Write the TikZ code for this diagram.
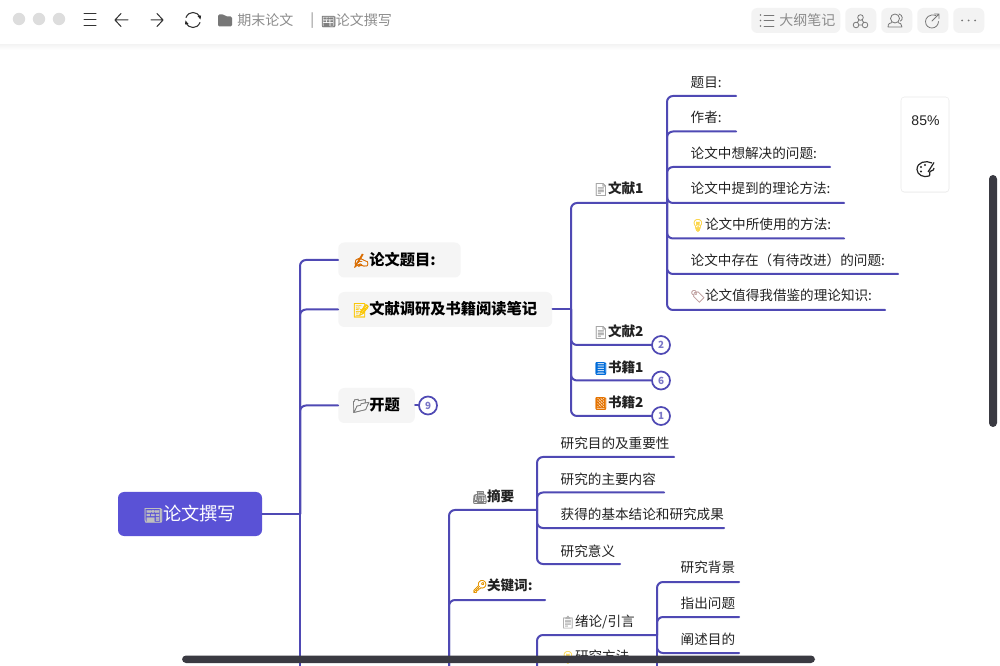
\documentclass[tikz,border=0pt]{standalone}
\usepackage{fontspec}
\setmainfont{Noto Sans CJK SC}
\newfontfamily\emo[Scale=0.9,FakeBold=1.6]{Noto Emoji}
\newfontfamily\latn{Liberation Sans}
\usetikzlibrary{shadows}
\definecolor{ink}{HTML}{4F49B4}
\definecolor{rootc}{HTML}{5A52D6}
\definecolor{pale}{HTML}{F5F5F5}
\definecolor{bar}{HTML}{3A3A42}
\definecolor{txt}{HTML}{222222}
\definecolor{grayt}{HTML}{8C8C8C}
\definecolor{dots}{HTML}{DDDDDD}
\definecolor{pill}{HTML}{F3F3F3}
\definecolor{icon}{HTML}{777777}
\newcommand{\emj}[2]{\makebox[1.05em][c]{\emo\textcolor{#1}{#2}}}
\tikzset{
  conn/.style={draw=ink,line width=1.5pt,rounded corners=4.5pt,line cap=round},
  leaf/.style={anchor=west,inner sep=0pt,xshift=-0.4pt,yshift=-0.6pt,text=txt,font=\fontsize{10.2}{12}\selectfont},
  subhead/.style={anchor=west,inner sep=0pt,xshift=-0.4pt,yshift=-0.6pt,text=txt,font=\fontsize{10.2}{12}\selectfont\bfseries},
  topic/.style={anchor=west,fill=pale,rounded corners=4.5pt,minimum height=26.25pt,inner ysep=0pt,inner xsep=11.25pt,text=black,font=\fontsize{11.45}{13}\selectfont\bfseries},
  rootbox/.style={fill=rootc,rounded corners=4.5pt,minimum width=108pt,minimum height=33pt,inner sep=0pt,text=white,font=\fontsize{13.7}{16}\selectfont},
  badge/.style={circle,draw=ink,line width=1.3pt,fill=white,minimum size=13.5pt,inner sep=0pt,text=ink!75,font=\fontsize{7.4}{8}\selectfont\bfseries},
  toptext/.style={anchor=west,inner sep=0pt,text=grayt,font=\fontsize{10.5}{12}\selectfont},
  pillbox/.style={fill=pill,rounded corners=4.5pt,minimum height=18.75pt,inner sep=0pt},
  tbicon/.style={draw=black!80,line width=0.75pt,line cap=round},
  rticon/.style={draw=icon,line width=0.6pt,line cap=round},
}
\begin{document}
\begin{tikzpicture}[x=0.75pt,y=-0.75pt]
\useasboundingbox (0,0) rectangle (1000,666);
\clip (0,0) rectangle (1000,666);
\fill[white] (0,0) rectangle (1000,666);

% ---- main spines (drawn first)
\node[rootbox] (root) at (190,514) {\emj{white!75!black}{📰}论文撰写};
\coordinate (hubA) at (300,514);
\coordinate (hubAend) at (300,680);
\draw[conn] (root.east) -- (hubA);
\draw[conn] (hubA) -- (hubAend);

% ---- level 1
\node[topic] (title) at (338,260) {\emj{orange!85!black}{✍}论文题目:\rule{7.5pt}{0pt}};
\node[topic] (lit) at (338,309.5) {\emj{yellow!60!orange}{📝}文献调研及书籍阅读笔记};
\node[topic] (open) at (338,405.5) {\emj{gray}{📂}开题};
\node[badge] (b9) at (428,405.5) {9};
\draw[conn] (hubA) |- (title.west);
\draw[conn] (hubA) |- (lit.west);
\draw[conn] (hubA) |- (open.west);
\draw[conn] (open.east) -- (b9.west);

% ---- literature branch
\coordinate (hubB) at (571,309.5);
\coordinate (hubC) at (667,203);
\node[subhead] (w1) at (594,188) {\emj{gray!70}{📄}文献1};
\node[subhead] (w2) at (594,331) {\emj{gray!70}{📄}文献2};
\node[subhead] (s1) at (594,367) {\emj{blue!50!cyan!85!black}{📘}书籍1};
\node[subhead] (s2) at (594,402) {\emj{orange!90!black}{📙}书籍2};
\node[badge] (b2) at (661,345) {2};
\node[badge] (b6) at (661,380.5) {6};
\node[badge] (b1) at (661,416) {1};
\draw[conn] (lit.east) -- (hubB);
\draw[conn] (hubB) |- (hubC);
\draw[conn] (hubB) |- (b2.west);
\draw[conn] (hubB) |- (b6.west);
\draw[conn] (hubB) |- (b1.west);

% ---- reference 1 leaves
\node[leaf] (l1) at (691,82) {题目:};
\node[leaf] (l2) at (691,117) {作者:};
\node[leaf] (l3) at (691,153) {论文中想解决的问题:};
\node[leaf] (l4) at (691,188) {论文中提到的理论方法:};
\node[leaf] (l5) at (691,224) {\emj{yellow!60!orange!70}{💡}论文中所使用的方法:};
\node[leaf] (l6) at (691,260) {论文中存在（有待改进）的问题:};
\node[leaf] (l7) at (691,295) {\emj{red!20!gray!60}{🏷}论文值得我借鉴的理论知识:};
\coordinate (e1) at (736,96);
\coordinate (e2) at (736,131.5);
\coordinate (e3) at (830,167);
\coordinate (e4) at (844,203);
\coordinate (e5) at (844,238.5);
\coordinate (e6) at (898,274);
\coordinate (e7) at (885,310);
\foreach \e in {e1,e2,e3,e4,e5,e6,e7}{\draw[conn] (hubC) |- (\e);}

% ---- thesis writing branch
\coordinate (hubD) at (449,680);
\draw[conn] (hubAend) -- (hubD);
\node[subhead] (abs) at (473,496) {\emj{gray}{📠}摘要};
\node[subhead] (key) at (473,585) {\emj{orange!70!yellow!90!black}{🔑}关键词:};
\coordinate (hubE) at (537,510);
\coordinate (keyend) at (545,600);
\draw[conn] (hubD) |- (hubE);
\draw[conn] (hubD) |- (keyend);

\node[leaf] (a1) at (561,443) {研究目的及重要性};
\node[leaf] (a2) at (561,478.5) {研究的主要内容};
\node[leaf] (a3) at (561,514) {获得的基本结论和研究成果};
\node[leaf] (a4) at (561,550) {研究意义};
\coordinate (ae1) at (674,457);
\coordinate (ae2) at (664,492.5);
\coordinate (ae3) at (724,528);
\coordinate (ae4) at (620,564);
\foreach \e in {ae1,ae2,ae3,ae4}{\draw[conn] (hubE) |- (\e);}

% ---- introduction branch
\coordinate (hubF) at (537,680);
\coordinate (hubG) at (657,635);
\draw[conn] (hubF) |- (hubG);
\draw[conn] (hubD) |- (hubF);
\node[leaf] (i0) at (561,621) {\emj{gray!60}{📋}绪论/引言};
\node[leaf] (m0) at (561,656) {\emj{yellow!60!orange!60}{💡}研究方法};
\node[leaf] (i1) at (681,567) {研究背景};
\node[leaf] (i2) at (681,603) {指出问题};
\node[leaf] (i3) at (681,638.5) {阐述目的};
\coordinate (ie1) at (739,582);
\coordinate (ie2) at (739,617);
\coordinate (ie3) at (739,653);
\foreach \e in {ie1,ie2,ie3}{\draw[conn] (hubG) |- (\e);}
\draw[conn] (hubG) -- (657,680);

% ---- top bar
\fill[white] (0,0) rectangle (1000,45);
\shade[top color=black!4,bottom color=white] (0,45) rectangle (1000,50);
\foreach \x in {19,39,59}{\fill[dots] (\x,19) circle (6.2);}
% menu
\draw[tbicon] (84,14) -- (96,14) (84,20) -- (96,20) (84,26) -- (96,26);
% back / forward
\draw[tbicon] (128,20) -- (115,20) (121,13.5) -- (115,20) -- (121,26.5);
\draw[tbicon] (151,20) -- (163,20) (157,13.5) -- (163,20) -- (157,26.5);
% refresh
\draw[tbicon,line width=0.8pt] (186,17.5) .. controls (187.5,14) and (190,12.5) .. (193,12.5) .. controls (196,12.5) and (198.5,14) .. (200,17.5);
\draw[tbicon,line width=0.8pt] (200,22.5) .. controls (198.5,26) and (196,27.5) .. (193,27.5) .. controls (190,27.5) and (187.5,26) .. (186,22.5);
\fill[black!85] (197.5,16) -- (201,15.5) -- (200.5,19.5) -- cycle;
\fill[black!85] (188.5,24) -- (185,24.5) -- (185.5,20.5) -- cycle;
% folder
\fill[icon,rounded corners=1pt] (218,14.5) -- (224,14.5) -- (226,16.5) -- (232,16.5) -- (232,26.5) -- (218,26.5) -- cycle;
\node[toptext] (crumb) at (237,20.5) {期末论文};
\node[toptext] (sep) at (310,20.5) {|};
\node[toptext] (doc) at (321,20.5) {\emj{gray}{📰}论文撰写};

% right toolbar
\node[pillbox,minimum width=66.75pt,anchor=west] (outline) at (751,20.5) {};
\node[toptext,text=grayt] (outlinet) at (779,20.5) {大纲笔记};
\node[pillbox,minimum width=23.25pt,anchor=west] (p1) at (845,20.5) {};
\node[pillbox,minimum width=23.25pt,anchor=west] (p2) at (881,20.5) {};
\node[pillbox,minimum width=23.25pt,anchor=west] (p3) at (917,20.5) {};
\node[pillbox,minimum width=23.25pt,anchor=west] (p4) at (953,20.5) {};
\draw[rticon] (764,15) -- (774,15) (764,20.5) -- (774,20.5) (764,26) -- (774,26);
\foreach \y in {15,20.5,26}{\fill[icon] (760.5,\y) circle (0.9);}
\draw[rticon] (860.5,17.5) circle (2.8) (856,25) circle (2.8) (865,25) circle (2.8) (859,20) -- (857.3,22.5) (862,20) -- (863.7,22.5) (858.8,25) -- (862.2,25);
\draw[rticon] (895,18.5) circle (4.5);
\draw[rticon] (888,27) .. controls (888,23.5) and (890,23) .. (892,22.5) (902,27) .. controls (902,24) and (900,23) .. (898,22.5) (888,27) -- (902,27);
\draw[rticon] (899,14) .. controls (903,15) and (903,20) .. (900.5,21);
\draw[rticon] (936,15.5) .. controls (929,13.5) and (925.5,18) .. (925.5,21.5) .. controls (925.5,26) and (929,28) .. (932,28) .. controls (935.5,28) and (938.5,25) .. (938.5,21.5);
\draw[rticon] (932,21) -- (939,14) (934.5,14) -- (939,14) -- (939,18.5);
\foreach \x in {962,968.5,975}{\fill[icon] (\x,20.5) circle (1);}

% zoom panel
\node[draw=black!8,fill=white,rounded corners=2.5pt,minimum width=36pt,minimum height=71.25pt,inner sep=0pt,drop shadow={opacity=0.08,shadow xshift=0pt,shadow yshift=-0.5pt}] (panel) at (925,144.5) {};
\node[inner sep=0pt,text=txt,font=\fontsize{10.5}{12}\selectfont\latn] (zoomt) at (925.5,121) {85\%};
\draw[black!85,line width=0.9pt] (932,163) .. controls (926,160) and (917,162) .. (917,169.5) .. controls (917,175) and (924,178) .. (929,176) .. controls (931,175) and (928,172) .. (931,171) .. controls (933,170.5) and (934,170) .. (934,168);
\draw[black!85,line width=0.9pt] (928,172) -- (934,162.5);
\fill[black!85] (921,167) circle (1.1) (925,165) circle (1.1) (921,171.5) circle (1.1);

% scroll bars
\fill[bar,rounded corners=3pt] (182,655.5) rectangle (815,663);
\fill[bar,rounded corners=3pt] (989,175) rectangle (997,427);
\end{tikzpicture}
\end{document}
